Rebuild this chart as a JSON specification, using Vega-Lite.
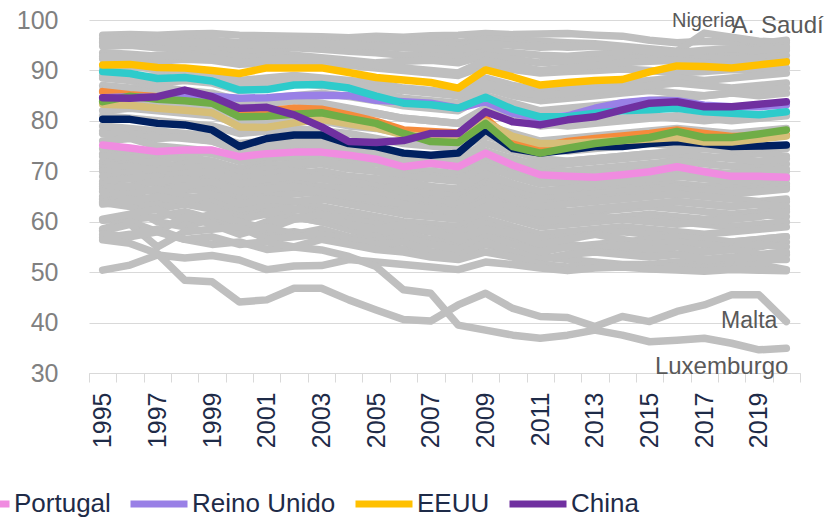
{
"$schema": "https://vega.github.io/schema/vega-lite/v6.json",
"width": 711, "height": 353,
"autosize": {"type": "none"},
"padding": {"left": 89, "top": 20, "right": 33, "bottom": 144},
"config": {"view": {"stroke": null}, "font": "Liberation Sans"},
"datasets": {
"gray": [
{"c":"A. Saudí","t":1995,"v":97.0},{"c":"A. Saudí","t":1996,"v":97.1},{"c":"A. Saudí","t":1997,"v":97.0},{"c":"A. Saudí","t":1998,"v":97.2},{"c":"A. Saudí","t":1999,"v":97.3},{"c":"A. Saudí","t":2000,"v":97.0},{"c":"A. Saudí","t":2001,"v":96.9},{"c":"A. Saudí","t":2002,"v":96.8},{"c":"A. Saudí","t":2003,"v":96.7},{"c":"A. Saudí","t":2004,"v":96.5},{"c":"A. Saudí","t":2005,"v":96.8},{"c":"A. Saudí","t":2006,"v":96.6},{"c":"A. Saudí","t":2007,"v":96.9},{"c":"A. Saudí","t":2008,"v":97.0},{"c":"A. Saudí","t":2009,"v":97.3},{"c":"A. Saudí","t":2010,"v":97.1},{"c":"A. Saudí","t":2011,"v":97.2},{"c":"A. Saudí","t":2012,"v":97.3},{"c":"A. Saudí","t":2013,"v":97.0},{"c":"A. Saudí","t":2014,"v":96.8},{"c":"A. Saudí","t":2015,"v":96.0},{"c":"A. Saudí","t":2016,"v":95.5},{"c":"A. Saudí","t":2017,"v":95.8},{"c":"A. Saudí","t":2018,"v":95.6},{"c":"A. Saudí","t":2019,"v":95.3},{"c":"A. Saudí","t":2020,"v":96.0},
{"c":"Nigeria","t":1995,"v":95.5},{"c":"Nigeria","t":1996,"v":95.8},{"c":"Nigeria","t":1997,"v":95.2},{"c":"Nigeria","t":1998,"v":95.6},{"c":"Nigeria","t":1999,"v":95.8},{"c":"Nigeria","t":2000,"v":95.0},{"c":"Nigeria","t":2001,"v":95.3},{"c":"Nigeria","t":2002,"v":95.6},{"c":"Nigeria","t":2003,"v":95.8},{"c":"Nigeria","t":2004,"v":96.0},{"c":"Nigeria","t":2005,"v":96.3},{"c":"Nigeria","t":2006,"v":96.0},{"c":"Nigeria","t":2007,"v":95.8},{"c":"Nigeria","t":2008,"v":95.5},{"c":"Nigeria","t":2009,"v":96.2},{"c":"Nigeria","t":2010,"v":96.0},{"c":"Nigeria","t":2011,"v":95.8},{"c":"Nigeria","t":2012,"v":95.5},{"c":"Nigeria","t":2013,"v":95.3},{"c":"Nigeria","t":2014,"v":94.8},{"c":"Nigeria","t":2015,"v":94.3},{"c":"Nigeria","t":2016,"v":93.8},{"c":"Nigeria","t":2017,"v":97.4},{"c":"Nigeria","t":2018,"v":96.6},{"c":"Nigeria","t":2019,"v":95.8},{"c":"Nigeria","t":2020,"v":95.5},
{"c":"p03","t":1995,"v":96.3},{"c":"p03","t":1996,"v":96.5},{"c":"p03","t":1997,"v":96.6},{"c":"p03","t":1998,"v":96.2},{"c":"p03","t":1999,"v":96.0},{"c":"p03","t":2000,"v":95.5},{"c":"p03","t":2001,"v":95.8},{"c":"p03","t":2002,"v":96.0},{"c":"p03","t":2003,"v":95.6},{"c":"p03","t":2004,"v":95.2},{"c":"p03","t":2005,"v":95.0},{"c":"p03","t":2006,"v":94.8},{"c":"p03","t":2007,"v":95.2},{"c":"p03","t":2008,"v":95.0},{"c":"p03","t":2009,"v":95.8},{"c":"p03","t":2010,"v":95.5},{"c":"p03","t":2011,"v":95.0},{"c":"p03","t":2012,"v":94.6},{"c":"p03","t":2013,"v":94.8},{"c":"p03","t":2014,"v":94.5},{"c":"p03","t":2015,"v":94.0},{"c":"p03","t":2016,"v":93.5},{"c":"p03","t":2017,"v":93.8},{"c":"p03","t":2018,"v":94.2},{"c":"p03","t":2019,"v":94.5},{"c":"p03","t":2020,"v":94.8},
{"c":"p04","t":1995,"v":94.8},{"c":"p04","t":1996,"v":95.0},{"c":"p04","t":1997,"v":94.5},{"c":"p04","t":1998,"v":94.2},{"c":"p04","t":1999,"v":94.6},{"c":"p04","t":2000,"v":93.8},{"c":"p04","t":2001,"v":94.0},{"c":"p04","t":2002,"v":94.5},{"c":"p04","t":2003,"v":94.2},{"c":"p04","t":2004,"v":93.8},{"c":"p04","t":2005,"v":93.5},{"c":"p04","t":2006,"v":93.0},{"c":"p04","t":2007,"v":93.2},{"c":"p04","t":2008,"v":92.8},{"c":"p04","t":2009,"v":94.0},{"c":"p04","t":2010,"v":93.5},{"c":"p04","t":2011,"v":93.0},{"c":"p04","t":2012,"v":92.8},{"c":"p04","t":2013,"v":93.2},{"c":"p04","t":2014,"v":93.5},{"c":"p04","t":2015,"v":93.0},{"c":"p04","t":2016,"v":92.5},{"c":"p04","t":2017,"v":93.0},{"c":"p04","t":2018,"v":93.5},{"c":"p04","t":2019,"v":93.8},{"c":"p04","t":2020,"v":94.0},
{"c":"p05","t":1995,"v":93.5},{"c":"p05","t":1996,"v":93.2},{"c":"p05","t":1997,"v":92.8},{"c":"p05","t":1998,"v":93.0},{"c":"p05","t":1999,"v":93.5},{"c":"p05","t":2000,"v":92.5},{"c":"p05","t":2001,"v":92.8},{"c":"p05","t":2002,"v":93.0},{"c":"p05","t":2003,"v":92.5},{"c":"p05","t":2004,"v":92.0},{"c":"p05","t":2005,"v":91.5},{"c":"p05","t":2006,"v":91.8},{"c":"p05","t":2007,"v":92.0},{"c":"p05","t":2008,"v":91.5},{"c":"p05","t":2009,"v":93.0},{"c":"p05","t":2010,"v":92.2},{"c":"p05","t":2011,"v":91.5},{"c":"p05","t":2012,"v":91.8},{"c":"p05","t":2013,"v":92.0},{"c":"p05","t":2014,"v":92.3},{"c":"p05","t":2015,"v":92.5},{"c":"p05","t":2016,"v":92.8},{"c":"p05","t":2017,"v":92.5},{"c":"p05","t":2018,"v":92.2},{"c":"p05","t":2019,"v":92.5},{"c":"p05","t":2020,"v":93.0},
{"c":"p06","t":1995,"v":92.3},{"c":"p06","t":1996,"v":92.0},{"c":"p06","t":1997,"v":91.8},{"c":"p06","t":1998,"v":92.2},{"c":"p06","t":1999,"v":92.0},{"c":"p06","t":2000,"v":91.2},{"c":"p06","t":2001,"v":91.5},{"c":"p06","t":2002,"v":91.8},{"c":"p06","t":2003,"v":91.5},{"c":"p06","t":2004,"v":91.0},{"c":"p06","t":2005,"v":90.5},{"c":"p06","t":2006,"v":90.0},{"c":"p06","t":2007,"v":89.5},{"c":"p06","t":2008,"v":89.0},{"c":"p06","t":2009,"v":91.0},{"c":"p06","t":2010,"v":90.2},{"c":"p06","t":2011,"v":89.5},{"c":"p06","t":2012,"v":89.8},{"c":"p06","t":2013,"v":90.0},{"c":"p06","t":2014,"v":90.3},{"c":"p06","t":2015,"v":90.0},{"c":"p06","t":2016,"v":89.5},{"c":"p06","t":2017,"v":89.8},{"c":"p06","t":2018,"v":90.2},{"c":"p06","t":2019,"v":90.0},{"c":"p06","t":2020,"v":90.5},
{"c":"p07","t":1995,"v":90.5},{"c":"p07","t":1996,"v":90.8},{"c":"p07","t":1997,"v":90.2},{"c":"p07","t":1998,"v":89.8},{"c":"p07","t":1999,"v":89.5},{"c":"p07","t":2000,"v":88.0},{"c":"p07","t":2001,"v":88.5},{"c":"p07","t":2002,"v":89.0},{"c":"p07","t":2003,"v":88.5},{"c":"p07","t":2004,"v":88.0},{"c":"p07","t":2005,"v":87.5},{"c":"p07","t":2006,"v":86.5},{"c":"p07","t":2007,"v":86.0},{"c":"p07","t":2008,"v":85.5},{"c":"p07","t":2009,"v":88.5},{"c":"p07","t":2010,"v":87.0},{"c":"p07","t":2011,"v":86.0},{"c":"p07","t":2012,"v":86.5},{"c":"p07","t":2013,"v":87.0},{"c":"p07","t":2014,"v":87.5},{"c":"p07","t":2015,"v":88.0},{"c":"p07","t":2016,"v":88.5},{"c":"p07","t":2017,"v":88.0},{"c":"p07","t":2018,"v":88.5},{"c":"p07","t":2019,"v":89.0},{"c":"p07","t":2020,"v":89.5},
{"c":"p08","t":1995,"v":89.0},{"c":"p08","t":1996,"v":88.5},{"c":"p08","t":1997,"v":89.0},{"c":"p08","t":1998,"v":88.0},{"c":"p08","t":1999,"v":87.5},{"c":"p08","t":2000,"v":86.0},{"c":"p08","t":2001,"v":86.5},{"c":"p08","t":2002,"v":87.5},{"c":"p08","t":2003,"v":87.0},{"c":"p08","t":2004,"v":86.5},{"c":"p08","t":2005,"v":85.5},{"c":"p08","t":2006,"v":84.5},{"c":"p08","t":2007,"v":84.0},{"c":"p08","t":2008,"v":83.5},{"c":"p08","t":2009,"v":86.5},{"c":"p08","t":2010,"v":85.0},{"c":"p08","t":2011,"v":84.0},{"c":"p08","t":2012,"v":84.5},{"c":"p08","t":2013,"v":85.0},{"c":"p08","t":2014,"v":85.5},{"c":"p08","t":2015,"v":86.0},{"c":"p08","t":2016,"v":85.5},{"c":"p08","t":2017,"v":85.0},{"c":"p08","t":2018,"v":85.5},{"c":"p08","t":2019,"v":85.0},{"c":"p08","t":2020,"v":85.5},
{"c":"p09","t":1995,"v":95.8},{"c":"p09","t":1996,"v":96.0},{"c":"p09","t":1997,"v":95.8},{"c":"p09","t":1998,"v":95.5},{"c":"p09","t":1999,"v":95.6},{"c":"p09","t":2000,"v":95.2},{"c":"p09","t":2001,"v":95.0},{"c":"p09","t":2002,"v":95.2},{"c":"p09","t":2003,"v":95.4},{"c":"p09","t":2004,"v":95.0},{"c":"p09","t":2005,"v":94.8},{"c":"p09","t":2006,"v":94.5},{"c":"p09","t":2007,"v":94.3},{"c":"p09","t":2008,"v":94.0},{"c":"p09","t":2009,"v":95.2},{"c":"p09","t":2010,"v":95.0},{"c":"p09","t":2011,"v":94.6},{"c":"p09","t":2012,"v":94.8},{"c":"p09","t":2013,"v":95.0},{"c":"p09","t":2014,"v":94.5},{"c":"p09","t":2015,"v":93.8},{"c":"p09","t":2016,"v":93.5},{"c":"p09","t":2017,"v":94.0},{"c":"p09","t":2018,"v":94.3},{"c":"p09","t":2019,"v":94.0},{"c":"p09","t":2020,"v":94.5},
{"c":"p10","t":1995,"v":92.8},{"c":"p10","t":1996,"v":92.5},{"c":"p10","t":1997,"v":93.0},{"c":"p10","t":1998,"v":92.8},{"c":"p10","t":1999,"v":92.5},{"c":"p10","t":2000,"v":91.5},{"c":"p10","t":2001,"v":92.0},{"c":"p10","t":2002,"v":92.5},{"c":"p10","t":2003,"v":92.2},{"c":"p10","t":2004,"v":91.8},{"c":"p10","t":2005,"v":91.0},{"c":"p10","t":2006,"v":90.5},{"c":"p10","t":2007,"v":90.0},{"c":"p10","t":2008,"v":89.5},{"c":"p10","t":2009,"v":92.0},{"c":"p10","t":2010,"v":91.0},{"c":"p10","t":2011,"v":90.0},{"c":"p10","t":2012,"v":90.5},{"c":"p10","t":2013,"v":91.0},{"c":"p10","t":2014,"v":91.5},{"c":"p10","t":2015,"v":91.8},{"c":"p10","t":2016,"v":92.0},{"c":"p10","t":2017,"v":91.5},{"c":"p10","t":2018,"v":91.0},{"c":"p10","t":2019,"v":91.5},{"c":"p10","t":2020,"v":92.0},
{"c":"p11","t":1995,"v":88.5},{"c":"p11","t":1996,"v":88.0},{"c":"p11","t":1997,"v":87.5},{"c":"p11","t":1998,"v":88.0},{"c":"p11","t":1999,"v":88.5},{"c":"p11","t":2000,"v":87.0},{"c":"p11","t":2001,"v":87.5},{"c":"p11","t":2002,"v":88.0},{"c":"p11","t":2003,"v":88.2},{"c":"p11","t":2004,"v":87.5},{"c":"p11","t":2005,"v":86.5},{"c":"p11","t":2006,"v":86.0},{"c":"p11","t":2007,"v":85.5},{"c":"p11","t":2008,"v":85.0},{"c":"p11","t":2009,"v":87.5},{"c":"p11","t":2010,"v":86.0},{"c":"p11","t":2011,"v":85.0},{"c":"p11","t":2012,"v":85.5},{"c":"p11","t":2013,"v":86.0},{"c":"p11","t":2014,"v":86.5},{"c":"p11","t":2015,"v":87.0},{"c":"p11","t":2016,"v":87.5},{"c":"p11","t":2017,"v":87.0},{"c":"p11","t":2018,"v":86.5},{"c":"p11","t":2019,"v":87.0},{"c":"p11","t":2020,"v":87.5},
{"c":"p12","t":1995,"v":87.0},{"c":"p12","t":1996,"v":86.5},{"c":"p12","t":1997,"v":86.8},{"c":"p12","t":1998,"v":86.0},{"c":"p12","t":1999,"v":85.5},{"c":"p12","t":2000,"v":84.0},{"c":"p12","t":2001,"v":84.5},{"c":"p12","t":2002,"v":85.0},{"c":"p12","t":2003,"v":85.5},{"c":"p12","t":2004,"v":84.8},{"c":"p12","t":2005,"v":84.0},{"c":"p12","t":2006,"v":83.0},{"c":"p12","t":2007,"v":82.5},{"c":"p12","t":2008,"v":82.0},{"c":"p12","t":2009,"v":85.0},{"c":"p12","t":2010,"v":83.5},{"c":"p12","t":2011,"v":82.0},{"c":"p12","t":2012,"v":82.5},{"c":"p12","t":2013,"v":83.0},{"c":"p12","t":2014,"v":83.5},{"c":"p12","t":2015,"v":84.0},{"c":"p12","t":2016,"v":84.5},{"c":"p12","t":2017,"v":85.0},{"c":"p12","t":2018,"v":85.5},{"c":"p12","t":2019,"v":86.0},{"c":"p12","t":2020,"v":86.5},
{"c":"p13","t":1995,"v":86.0},{"c":"p13","t":1996,"v":86.2},{"c":"p13","t":1997,"v":85.5},{"c":"p13","t":1998,"v":85.0},{"c":"p13","t":1999,"v":84.5},{"c":"p13","t":2000,"v":83.0},{"c":"p13","t":2001,"v":83.5},{"c":"p13","t":2002,"v":84.0},{"c":"p13","t":2003,"v":83.5},{"c":"p13","t":2004,"v":82.5},{"c":"p13","t":2005,"v":81.5},{"c":"p13","t":2006,"v":80.5},{"c":"p13","t":2007,"v":80.0},{"c":"p13","t":2008,"v":79.5},{"c":"p13","t":2009,"v":82.5},{"c":"p13","t":2010,"v":80.5},{"c":"p13","t":2011,"v":79.0},{"c":"p13","t":2012,"v":79.5},{"c":"p13","t":2013,"v":80.0},{"c":"p13","t":2014,"v":80.5},{"c":"p13","t":2015,"v":81.0},{"c":"p13","t":2016,"v":80.5},{"c":"p13","t":2017,"v":80.0},{"c":"p13","t":2018,"v":80.5},{"c":"p13","t":2019,"v":81.0},{"c":"p13","t":2020,"v":81.5},
{"c":"p14","t":1995,"v":84.5},{"c":"p14","t":1996,"v":84.0},{"c":"p14","t":1997,"v":83.5},{"c":"p14","t":1998,"v":83.0},{"c":"p14","t":1999,"v":82.5},{"c":"p14","t":2000,"v":81.0},{"c":"p14","t":2001,"v":81.5},{"c":"p14","t":2002,"v":82.0},{"c":"p14","t":2003,"v":82.5},{"c":"p14","t":2004,"v":82.0},{"c":"p14","t":2005,"v":81.5},{"c":"p14","t":2006,"v":80.5},{"c":"p14","t":2007,"v":80.0},{"c":"p14","t":2008,"v":79.5},{"c":"p14","t":2009,"v":82.0},{"c":"p14","t":2010,"v":80.5},{"c":"p14","t":2011,"v":79.5},{"c":"p14","t":2012,"v":79.0},{"c":"p14","t":2013,"v":79.5},{"c":"p14","t":2014,"v":80.0},{"c":"p14","t":2015,"v":80.5},{"c":"p14","t":2016,"v":81.0},{"c":"p14","t":2017,"v":80.5},{"c":"p14","t":2018,"v":80.0},{"c":"p14","t":2019,"v":80.5},{"c":"p14","t":2020,"v":81.0},
{"c":"p15","t":1995,"v":82.0},{"c":"p15","t":1996,"v":82.5},{"c":"p15","t":1997,"v":82.0},{"c":"p15","t":1998,"v":81.5},{"c":"p15","t":1999,"v":81.0},{"c":"p15","t":2000,"v":79.5},{"c":"p15","t":2001,"v":80.0},{"c":"p15","t":2002,"v":80.5},{"c":"p15","t":2003,"v":80.0},{"c":"p15","t":2004,"v":79.0},{"c":"p15","t":2005,"v":78.5},{"c":"p15","t":2006,"v":77.5},{"c":"p15","t":2007,"v":77.0},{"c":"p15","t":2008,"v":76.5},{"c":"p15","t":2009,"v":79.0},{"c":"p15","t":2010,"v":77.5},{"c":"p15","t":2011,"v":76.0},{"c":"p15","t":2012,"v":76.5},{"c":"p15","t":2013,"v":77.0},{"c":"p15","t":2014,"v":77.5},{"c":"p15","t":2015,"v":78.0},{"c":"p15","t":2016,"v":78.5},{"c":"p15","t":2017,"v":78.0},{"c":"p15","t":2018,"v":77.5},{"c":"p15","t":2019,"v":78.0},{"c":"p15","t":2020,"v":78.5},
{"c":"p16","t":1995,"v":81.0},{"c":"p16","t":1996,"v":80.5},{"c":"p16","t":1997,"v":80.0},{"c":"p16","t":1998,"v":79.5},{"c":"p16","t":1999,"v":79.0},{"c":"p16","t":2000,"v":77.5},{"c":"p16","t":2001,"v":78.0},{"c":"p16","t":2002,"v":78.5},{"c":"p16","t":2003,"v":78.0},{"c":"p16","t":2004,"v":77.5},{"c":"p16","t":2005,"v":76.5},{"c":"p16","t":2006,"v":75.5},{"c":"p16","t":2007,"v":75.0},{"c":"p16","t":2008,"v":74.5},{"c":"p16","t":2009,"v":77.0},{"c":"p16","t":2010,"v":75.5},{"c":"p16","t":2011,"v":74.5},{"c":"p16","t":2012,"v":74.0},{"c":"p16","t":2013,"v":74.5},{"c":"p16","t":2014,"v":75.0},{"c":"p16","t":2015,"v":75.5},{"c":"p16","t":2016,"v":75.0},{"c":"p16","t":2017,"v":74.5},{"c":"p16","t":2018,"v":74.0},{"c":"p16","t":2019,"v":74.5},{"c":"p16","t":2020,"v":74.5},
{"c":"p17","t":1995,"v":79.0},{"c":"p17","t":1996,"v":78.5},{"c":"p17","t":1997,"v":78.0},{"c":"p17","t":1998,"v":77.5},{"c":"p17","t":1999,"v":77.0},{"c":"p17","t":2000,"v":75.5},{"c":"p17","t":2001,"v":76.0},{"c":"p17","t":2002,"v":76.5},{"c":"p17","t":2003,"v":76.0},{"c":"p17","t":2004,"v":75.0},{"c":"p17","t":2005,"v":74.0},{"c":"p17","t":2006,"v":73.5},{"c":"p17","t":2007,"v":73.0},{"c":"p17","t":2008,"v":72.5},{"c":"p17","t":2009,"v":75.5},{"c":"p17","t":2010,"v":74.0},{"c":"p17","t":2011,"v":72.5},{"c":"p17","t":2012,"v":72.0},{"c":"p17","t":2013,"v":72.5},{"c":"p17","t":2014,"v":73.0},{"c":"p17","t":2015,"v":73.5},{"c":"p17","t":2016,"v":73.0},{"c":"p17","t":2017,"v":72.5},{"c":"p17","t":2018,"v":73.0},{"c":"p17","t":2019,"v":73.5},{"c":"p17","t":2020,"v":73.0},
{"c":"p18","t":1995,"v":78.0},{"c":"p18","t":1996,"v":77.5},{"c":"p18","t":1997,"v":77.0},{"c":"p18","t":1998,"v":76.5},{"c":"p18","t":1999,"v":76.0},{"c":"p18","t":2000,"v":74.0},{"c":"p18","t":2001,"v":74.5},{"c":"p18","t":2002,"v":75.0},{"c":"p18","t":2003,"v":74.5},{"c":"p18","t":2004,"v":74.0},{"c":"p18","t":2005,"v":73.0},{"c":"p18","t":2006,"v":72.0},{"c":"p18","t":2007,"v":71.5},{"c":"p18","t":2008,"v":71.0},{"c":"p18","t":2009,"v":73.5},{"c":"p18","t":2010,"v":72.0},{"c":"p18","t":2011,"v":70.5},{"c":"p18","t":2012,"v":70.0},{"c":"p18","t":2013,"v":70.5},{"c":"p18","t":2014,"v":71.0},{"c":"p18","t":2015,"v":71.5},{"c":"p18","t":2016,"v":72.0},{"c":"p18","t":2017,"v":71.5},{"c":"p18","t":2018,"v":71.0},{"c":"p18","t":2019,"v":71.0},{"c":"p18","t":2020,"v":71.5},
{"c":"p19","t":1995,"v":77.5},{"c":"p19","t":1996,"v":77.0},{"c":"p19","t":1997,"v":76.5},{"c":"p19","t":1998,"v":76.8},{"c":"p19","t":1999,"v":76.0},{"c":"p19","t":2000,"v":74.5},{"c":"p19","t":2001,"v":75.0},{"c":"p19","t":2002,"v":75.5},{"c":"p19","t":2003,"v":75.2},{"c":"p19","t":2004,"v":74.5},{"c":"p19","t":2005,"v":73.5},{"c":"p19","t":2006,"v":72.5},{"c":"p19","t":2007,"v":72.0},{"c":"p19","t":2008,"v":71.5},{"c":"p19","t":2009,"v":74.0},{"c":"p19","t":2010,"v":72.5},{"c":"p19","t":2011,"v":71.0},{"c":"p19","t":2012,"v":71.5},{"c":"p19","t":2013,"v":72.0},{"c":"p19","t":2014,"v":72.5},{"c":"p19","t":2015,"v":73.0},{"c":"p19","t":2016,"v":73.5},{"c":"p19","t":2017,"v":73.0},{"c":"p19","t":2018,"v":72.5},{"c":"p19","t":2019,"v":72.0},{"c":"p19","t":2020,"v":72.5},
{"c":"p20","t":1995,"v":76.0},{"c":"p20","t":1996,"v":76.5},{"c":"p20","t":1997,"v":75.0},{"c":"p20","t":1998,"v":74.5},{"c":"p20","t":1999,"v":74.0},{"c":"p20","t":2000,"v":72.0},{"c":"p20","t":2001,"v":73.0},{"c":"p20","t":2002,"v":72.5},{"c":"p20","t":2003,"v":73.0},{"c":"p20","t":2004,"v":72.0},{"c":"p20","t":2005,"v":71.5},{"c":"p20","t":2006,"v":70.5},{"c":"p20","t":2007,"v":70.0},{"c":"p20","t":2008,"v":69.5},{"c":"p20","t":2009,"v":72.0},{"c":"p20","t":2010,"v":70.0},{"c":"p20","t":2011,"v":68.5},{"c":"p20","t":2012,"v":69.0},{"c":"p20","t":2013,"v":69.5},{"c":"p20","t":2014,"v":70.0},{"c":"p20","t":2015,"v":70.5},{"c":"p20","t":2016,"v":70.0},{"c":"p20","t":2017,"v":69.5},{"c":"p20","t":2018,"v":69.0},{"c":"p20","t":2019,"v":69.5},{"c":"p20","t":2020,"v":70.0},
{"c":"p21","t":1995,"v":74.5},{"c":"p21","t":1996,"v":74.0},{"c":"p21","t":1997,"v":73.5},{"c":"p21","t":1998,"v":74.0},{"c":"p21","t":1999,"v":73.5},{"c":"p21","t":2000,"v":72.0},{"c":"p21","t":2001,"v":72.5},{"c":"p21","t":2002,"v":73.0},{"c":"p21","t":2003,"v":73.5},{"c":"p21","t":2004,"v":73.0},{"c":"p21","t":2005,"v":72.5},{"c":"p21","t":2006,"v":72.0},{"c":"p21","t":2007,"v":71.5},{"c":"p21","t":2008,"v":71.0},{"c":"p21","t":2009,"v":73.0},{"c":"p21","t":2010,"v":72.0},{"c":"p21","t":2011,"v":71.5},{"c":"p21","t":2012,"v":72.0},{"c":"p21","t":2013,"v":72.5},{"c":"p21","t":2014,"v":73.0},{"c":"p21","t":2015,"v":73.5},{"c":"p21","t":2016,"v":74.0},{"c":"p21","t":2017,"v":74.5},{"c":"p21","t":2018,"v":74.0},{"c":"p21","t":2019,"v":74.5},{"c":"p21","t":2020,"v":75.0},
{"c":"p22","t":1995,"v":73.5},{"c":"p22","t":1996,"v":73.0},{"c":"p22","t":1997,"v":72.5},{"c":"p22","t":1998,"v":72.8},{"c":"p22","t":1999,"v":72.0},{"c":"p22","t":2000,"v":70.5},{"c":"p22","t":2001,"v":71.5},{"c":"p22","t":2002,"v":71.0},{"c":"p22","t":2003,"v":71.5},{"c":"p22","t":2004,"v":70.5},{"c":"p22","t":2005,"v":70.0},{"c":"p22","t":2006,"v":69.5},{"c":"p22","t":2007,"v":69.0},{"c":"p22","t":2008,"v":68.5},{"c":"p22","t":2009,"v":70.5},{"c":"p22","t":2010,"v":69.5},{"c":"p22","t":2011,"v":68.0},{"c":"p22","t":2012,"v":67.5},{"c":"p22","t":2013,"v":68.0},{"c":"p22","t":2014,"v":68.5},{"c":"p22","t":2015,"v":69.0},{"c":"p22","t":2016,"v":69.5},{"c":"p22","t":2017,"v":69.0},{"c":"p22","t":2018,"v":68.5},{"c":"p22","t":2019,"v":68.0},{"c":"p22","t":2020,"v":67.5},
{"c":"p23","t":1995,"v":73.0},{"c":"p23","t":1996,"v":72.5},{"c":"p23","t":1997,"v":73.5},{"c":"p23","t":1998,"v":72.0},{"c":"p23","t":1999,"v":71.5},{"c":"p23","t":2000,"v":70.0},{"c":"p23","t":2001,"v":71.0},{"c":"p23","t":2002,"v":71.5},{"c":"p23","t":2003,"v":72.0},{"c":"p23","t":2004,"v":71.0},{"c":"p23","t":2005,"v":70.0},{"c":"p23","t":2006,"v":69.0},{"c":"p23","t":2007,"v":68.5},{"c":"p23","t":2008,"v":68.0},{"c":"p23","t":2009,"v":71.0},{"c":"p23","t":2010,"v":69.0},{"c":"p23","t":2011,"v":67.5},{"c":"p23","t":2012,"v":68.0},{"c":"p23","t":2013,"v":68.5},{"c":"p23","t":2014,"v":69.5},{"c":"p23","t":2015,"v":70.0},{"c":"p23","t":2016,"v":70.5},{"c":"p23","t":2017,"v":70.0},{"c":"p23","t":2018,"v":69.5},{"c":"p23","t":2019,"v":70.0},{"c":"p23","t":2020,"v":70.5},
{"c":"p24","t":1995,"v":72.0},{"c":"p24","t":1996,"v":71.0},{"c":"p24","t":1997,"v":70.5},{"c":"p24","t":1998,"v":71.5},{"c":"p24","t":1999,"v":72.0},{"c":"p24","t":2000,"v":69.5},{"c":"p24","t":2001,"v":70.5},{"c":"p24","t":2002,"v":70.0},{"c":"p24","t":2003,"v":69.5},{"c":"p24","t":2004,"v":68.5},{"c":"p24","t":2005,"v":67.5},{"c":"p24","t":2006,"v":66.5},{"c":"p24","t":2007,"v":66.0},{"c":"p24","t":2008,"v":65.5},{"c":"p24","t":2009,"v":68.0},{"c":"p24","t":2010,"v":66.5},{"c":"p24","t":2011,"v":65.0},{"c":"p24","t":2012,"v":65.5},{"c":"p24","t":2013,"v":66.0},{"c":"p24","t":2014,"v":66.5},{"c":"p24","t":2015,"v":67.0},{"c":"p24","t":2016,"v":67.5},{"c":"p24","t":2017,"v":67.0},{"c":"p24","t":2018,"v":66.5},{"c":"p24","t":2019,"v":67.0},{"c":"p24","t":2020,"v":67.5},
{"c":"p25","t":1995,"v":71.5},{"c":"p25","t":1996,"v":70.5},{"c":"p25","t":1997,"v":70.0},{"c":"p25","t":1998,"v":69.0},{"c":"p25","t":1999,"v":68.5},{"c":"p25","t":2000,"v":66.5},{"c":"p25","t":2001,"v":67.5},{"c":"p25","t":2002,"v":68.0},{"c":"p25","t":2003,"v":68.5},{"c":"p25","t":2004,"v":68.0},{"c":"p25","t":2005,"v":67.5},{"c":"p25","t":2006,"v":67.0},{"c":"p25","t":2007,"v":66.5},{"c":"p25","t":2008,"v":66.0},{"c":"p25","t":2009,"v":68.5},{"c":"p25","t":2010,"v":67.0},{"c":"p25","t":2011,"v":66.0},{"c":"p25","t":2012,"v":66.5},{"c":"p25","t":2013,"v":67.0},{"c":"p25","t":2014,"v":67.5},{"c":"p25","t":2015,"v":68.0},{"c":"p25","t":2016,"v":67.5},{"c":"p25","t":2017,"v":67.0},{"c":"p25","t":2018,"v":67.5},{"c":"p25","t":2019,"v":68.0},{"c":"p25","t":2020,"v":68.5},
{"c":"p26","t":1995,"v":71.0},{"c":"p26","t":1996,"v":71.5},{"c":"p26","t":1997,"v":72.0},{"c":"p26","t":1998,"v":70.5},{"c":"p26","t":1999,"v":70.0},{"c":"p26","t":2000,"v":68.0},{"c":"p26","t":2001,"v":69.0},{"c":"p26","t":2002,"v":69.5},{"c":"p26","t":2003,"v":70.0},{"c":"p26","t":2004,"v":69.0},{"c":"p26","t":2005,"v":68.5},{"c":"p26","t":2006,"v":68.0},{"c":"p26","t":2007,"v":67.0},{"c":"p26","t":2008,"v":66.5},{"c":"p26","t":2009,"v":69.5},{"c":"p26","t":2010,"v":67.5},{"c":"p26","t":2011,"v":66.0},{"c":"p26","t":2012,"v":66.5},{"c":"p26","t":2013,"v":67.5},{"c":"p26","t":2014,"v":68.0},{"c":"p26","t":2015,"v":68.5},{"c":"p26","t":2016,"v":69.0},{"c":"p26","t":2017,"v":68.5},{"c":"p26","t":2018,"v":68.0},{"c":"p26","t":2019,"v":68.5},{"c":"p26","t":2020,"v":69.0},
{"c":"p27","t":1995,"v":70.5},{"c":"p27","t":1996,"v":71.0},{"c":"p27","t":1997,"v":70.0},{"c":"p27","t":1998,"v":70.5},{"c":"p27","t":1999,"v":71.0},{"c":"p27","t":2000,"v":68.5},{"c":"p27","t":2001,"v":69.5},{"c":"p27","t":2002,"v":70.0},{"c":"p27","t":2003,"v":69.0},{"c":"p27","t":2004,"v":68.0},{"c":"p27","t":2005,"v":67.0},{"c":"p27","t":2006,"v":66.0},{"c":"p27","t":2007,"v":65.5},{"c":"p27","t":2008,"v":65.0},{"c":"p27","t":2009,"v":67.5},{"c":"p27","t":2010,"v":66.0},{"c":"p27","t":2011,"v":64.5},{"c":"p27","t":2012,"v":65.0},{"c":"p27","t":2013,"v":65.5},{"c":"p27","t":2014,"v":66.0},{"c":"p27","t":2015,"v":66.5},{"c":"p27","t":2016,"v":67.0},{"c":"p27","t":2017,"v":66.5},{"c":"p27","t":2018,"v":66.0},{"c":"p27","t":2019,"v":66.5},{"c":"p27","t":2020,"v":67.0},
{"c":"p28","t":1995,"v":70.0},{"c":"p28","t":1996,"v":69.5},{"c":"p28","t":1997,"v":69.0},{"c":"p28","t":1998,"v":69.5},{"c":"p28","t":1999,"v":70.0},{"c":"p28","t":2000,"v":67.5},{"c":"p28","t":2001,"v":68.5},{"c":"p28","t":2002,"v":69.0},{"c":"p28","t":2003,"v":68.5},{"c":"p28","t":2004,"v":67.5},{"c":"p28","t":2005,"v":66.0},{"c":"p28","t":2006,"v":65.0},{"c":"p28","t":2007,"v":64.5},{"c":"p28","t":2008,"v":64.0},{"c":"p28","t":2009,"v":67.0},{"c":"p28","t":2010,"v":65.0},{"c":"p28","t":2011,"v":63.5},{"c":"p28","t":2012,"v":64.0},{"c":"p28","t":2013,"v":64.5},{"c":"p28","t":2014,"v":65.0},{"c":"p28","t":2015,"v":66.0},{"c":"p28","t":2016,"v":66.5},{"c":"p28","t":2017,"v":66.0},{"c":"p28","t":2018,"v":65.5},{"c":"p28","t":2019,"v":66.0},{"c":"p28","t":2020,"v":66.5},
{"c":"p29","t":1995,"v":69.0},{"c":"p29","t":1996,"v":68.5},{"c":"p29","t":1997,"v":67.5},{"c":"p29","t":1998,"v":68.0},{"c":"p29","t":1999,"v":68.5},{"c":"p29","t":2000,"v":66.0},{"c":"p29","t":2001,"v":67.0},{"c":"p29","t":2002,"v":67.5},{"c":"p29","t":2003,"v":67.0},{"c":"p29","t":2004,"v":66.0},{"c":"p29","t":2005,"v":65.0},{"c":"p29","t":2006,"v":64.0},{"c":"p29","t":2007,"v":63.0},{"c":"p29","t":2008,"v":62.5},{"c":"p29","t":2009,"v":66.0},{"c":"p29","t":2010,"v":64.0},{"c":"p29","t":2011,"v":62.5},{"c":"p29","t":2012,"v":62.0},{"c":"p29","t":2013,"v":62.5},{"c":"p29","t":2014,"v":63.0},{"c":"p29","t":2015,"v":63.5},{"c":"p29","t":2016,"v":64.0},{"c":"p29","t":2017,"v":63.5},{"c":"p29","t":2018,"v":63.0},{"c":"p29","t":2019,"v":63.5},{"c":"p29","t":2020,"v":64.0},
{"c":"p30","t":1995,"v":68.0},{"c":"p30","t":1996,"v":68.5},{"c":"p30","t":1997,"v":69.0},{"c":"p30","t":1998,"v":67.5},{"c":"p30","t":1999,"v":67.0},{"c":"p30","t":2000,"v":65.0},{"c":"p30","t":2001,"v":66.5},{"c":"p30","t":2002,"v":66.0},{"c":"p30","t":2003,"v":65.5},{"c":"p30","t":2004,"v":64.5},{"c":"p30","t":2005,"v":63.5},{"c":"p30","t":2006,"v":62.5},{"c":"p30","t":2007,"v":62.0},{"c":"p30","t":2008,"v":61.5},{"c":"p30","t":2009,"v":65.0},{"c":"p30","t":2010,"v":63.0},{"c":"p30","t":2011,"v":61.0},{"c":"p30","t":2012,"v":61.5},{"c":"p30","t":2013,"v":62.0},{"c":"p30","t":2014,"v":62.5},{"c":"p30","t":2015,"v":63.0},{"c":"p30","t":2016,"v":62.5},{"c":"p30","t":2017,"v":62.0},{"c":"p30","t":2018,"v":61.5},{"c":"p30","t":2019,"v":62.0},{"c":"p30","t":2020,"v":62.5},
{"c":"p31","t":1995,"v":67.5},{"c":"p31","t":1996,"v":67.0},{"c":"p31","t":1997,"v":68.0},{"c":"p31","t":1998,"v":68.5},{"c":"p31","t":1999,"v":67.5},{"c":"p31","t":2000,"v":65.0},{"c":"p31","t":2001,"v":66.0},{"c":"p31","t":2002,"v":66.5},{"c":"p31","t":2003,"v":67.0},{"c":"p31","t":2004,"v":66.5},{"c":"p31","t":2005,"v":65.5},{"c":"p31","t":2006,"v":64.5},{"c":"p31","t":2007,"v":64.0},{"c":"p31","t":2008,"v":63.5},{"c":"p31","t":2009,"v":66.5},{"c":"p31","t":2010,"v":64.5},{"c":"p31","t":2011,"v":63.0},{"c":"p31","t":2012,"v":63.5},{"c":"p31","t":2013,"v":64.0},{"c":"p31","t":2014,"v":64.5},{"c":"p31","t":2015,"v":65.0},{"c":"p31","t":2016,"v":65.5},{"c":"p31","t":2017,"v":65.0},{"c":"p31","t":2018,"v":64.5},{"c":"p31","t":2019,"v":64.0},{"c":"p31","t":2020,"v":64.5},
{"c":"p32","t":1995,"v":67.0},{"c":"p32","t":1996,"v":66.5},{"c":"p32","t":1997,"v":66.0},{"c":"p32","t":1998,"v":66.5},{"c":"p32","t":1999,"v":66.0},{"c":"p32","t":2000,"v":64.0},{"c":"p32","t":2001,"v":65.0},{"c":"p32","t":2002,"v":65.5},{"c":"p32","t":2003,"v":66.0},{"c":"p32","t":2004,"v":65.0},{"c":"p32","t":2005,"v":64.0},{"c":"p32","t":2006,"v":63.5},{"c":"p32","t":2007,"v":63.0},{"c":"p32","t":2008,"v":62.5},{"c":"p32","t":2009,"v":64.5},{"c":"p32","t":2010,"v":62.5},{"c":"p32","t":2011,"v":60.5},{"c":"p32","t":2012,"v":60.0},{"c":"p32","t":2013,"v":60.5},{"c":"p32","t":2014,"v":61.0},{"c":"p32","t":2015,"v":61.5},{"c":"p32","t":2016,"v":61.0},{"c":"p32","t":2017,"v":60.5},{"c":"p32","t":2018,"v":61.0},{"c":"p32","t":2019,"v":61.5},{"c":"p32","t":2020,"v":61.0},
{"c":"p33","t":1995,"v":66.5},{"c":"p33","t":1996,"v":67.0},{"c":"p33","t":1997,"v":66.0},{"c":"p33","t":1998,"v":67.0},{"c":"p33","t":1999,"v":68.0},{"c":"p33","t":2000,"v":66.0},{"c":"p33","t":2001,"v":66.5},{"c":"p33","t":2002,"v":67.0},{"c":"p33","t":2003,"v":66.0},{"c":"p33","t":2004,"v":65.0},{"c":"p33","t":2005,"v":64.5},{"c":"p33","t":2006,"v":63.5},{"c":"p33","t":2007,"v":62.5},{"c":"p33","t":2008,"v":62.0},{"c":"p33","t":2009,"v":64.0},{"c":"p33","t":2010,"v":62.5},{"c":"p33","t":2011,"v":61.5},{"c":"p33","t":2012,"v":62.0},{"c":"p33","t":2013,"v":62.5},{"c":"p33","t":2014,"v":63.0},{"c":"p33","t":2015,"v":63.5},{"c":"p33","t":2016,"v":64.0},{"c":"p33","t":2017,"v":63.5},{"c":"p33","t":2018,"v":63.0},{"c":"p33","t":2019,"v":63.5},{"c":"p33","t":2020,"v":63.0},
{"c":"p34","t":1995,"v":66.0},{"c":"p34","t":1996,"v":65.0},{"c":"p34","t":1997,"v":64.0},{"c":"p34","t":1998,"v":65.0},{"c":"p34","t":1999,"v":64.5},{"c":"p34","t":2000,"v":63.0},{"c":"p34","t":2001,"v":63.5},{"c":"p34","t":2002,"v":64.0},{"c":"p34","t":2003,"v":63.0},{"c":"p34","t":2004,"v":62.0},{"c":"p34","t":2005,"v":61.0},{"c":"p34","t":2006,"v":60.0},{"c":"p34","t":2007,"v":59.5},{"c":"p34","t":2008,"v":59.0},{"c":"p34","t":2009,"v":62.0},{"c":"p34","t":2010,"v":60.5},{"c":"p34","t":2011,"v":59.0},{"c":"p34","t":2012,"v":59.5},{"c":"p34","t":2013,"v":60.0},{"c":"p34","t":2014,"v":60.5},{"c":"p34","t":2015,"v":61.0},{"c":"p34","t":2016,"v":60.0},{"c":"p34","t":2017,"v":59.5},{"c":"p34","t":2018,"v":59.0},{"c":"p34","t":2019,"v":59.5},{"c":"p34","t":2020,"v":60.0},
{"c":"p35","t":1995,"v":65.0},{"c":"p35","t":1996,"v":65.5},{"c":"p35","t":1997,"v":66.5},{"c":"p35","t":1998,"v":65.0},{"c":"p35","t":1999,"v":64.0},{"c":"p35","t":2000,"v":62.0},{"c":"p35","t":2001,"v":63.0},{"c":"p35","t":2002,"v":62.5},{"c":"p35","t":2003,"v":62.0},{"c":"p35","t":2004,"v":61.0},{"c":"p35","t":2005,"v":60.5},{"c":"p35","t":2006,"v":59.5},{"c":"p35","t":2007,"v":58.5},{"c":"p35","t":2008,"v":58.0},{"c":"p35","t":2009,"v":60.5},{"c":"p35","t":2010,"v":59.0},{"c":"p35","t":2011,"v":57.5},{"c":"p35","t":2012,"v":58.0},{"c":"p35","t":2013,"v":58.5},{"c":"p35","t":2014,"v":59.0},{"c":"p35","t":2015,"v":58.5},{"c":"p35","t":2016,"v":58.0},{"c":"p35","t":2017,"v":57.5},{"c":"p35","t":2018,"v":58.0},{"c":"p35","t":2019,"v":58.5},{"c":"p35","t":2020,"v":59.0},
{"c":"p36","t":1995,"v":64.5},{"c":"p36","t":1996,"v":63.5},{"c":"p36","t":1997,"v":62.5},{"c":"p36","t":1998,"v":63.5},{"c":"p36","t":1999,"v":63.0},{"c":"p36","t":2000,"v":61.0},{"c":"p36","t":2001,"v":62.0},{"c":"p36","t":2002,"v":62.5},{"c":"p36","t":2003,"v":61.5},{"c":"p36","t":2004,"v":60.5},{"c":"p36","t":2005,"v":59.5},{"c":"p36","t":2006,"v":58.5},{"c":"p36","t":2007,"v":58.0},{"c":"p36","t":2008,"v":57.5},{"c":"p36","t":2009,"v":59.5},{"c":"p36","t":2010,"v":58.0},{"c":"p36","t":2011,"v":56.5},{"c":"p36","t":2012,"v":57.0},{"c":"p36","t":2013,"v":57.5},{"c":"p36","t":2014,"v":58.0},{"c":"p36","t":2015,"v":57.5},{"c":"p36","t":2016,"v":57.0},{"c":"p36","t":2017,"v":56.5},{"c":"p36","t":2018,"v":56.0},{"c":"p36","t":2019,"v":56.5},{"c":"p36","t":2020,"v":57.0},
{"c":"p37","t":1995,"v":64.0},{"c":"p37","t":1996,"v":64.5},{"c":"p37","t":1997,"v":63.0},{"c":"p37","t":1998,"v":63.5},{"c":"p37","t":1999,"v":62.5},{"c":"p37","t":2000,"v":60.5},{"c":"p37","t":2001,"v":61.5},{"c":"p37","t":2002,"v":61.0},{"c":"p37","t":2003,"v":60.0},{"c":"p37","t":2004,"v":59.0},{"c":"p37","t":2005,"v":58.0},{"c":"p37","t":2006,"v":57.5},{"c":"p37","t":2007,"v":56.5},{"c":"p37","t":2008,"v":56.0},{"c":"p37","t":2009,"v":58.5},{"c":"p37","t":2010,"v":56.5},{"c":"p37","t":2011,"v":55.0},{"c":"p37","t":2012,"v":55.5},{"c":"p37","t":2013,"v":55.0},{"c":"p37","t":2014,"v":54.5},{"c":"p37","t":2015,"v":54.0},{"c":"p37","t":2016,"v":53.5},{"c":"p37","t":2017,"v":54.0},{"c":"p37","t":2018,"v":54.5},{"c":"p37","t":2019,"v":55.0},{"c":"p37","t":2020,"v":56.0},
{"c":"p38","t":1995,"v":63.8},{"c":"p38","t":1996,"v":63.0},{"c":"p38","t":1997,"v":60.0},{"c":"p38","t":1998,"v":59.0},{"c":"p38","t":1999,"v":60.5},{"c":"p38","t":2000,"v":58.5},{"c":"p38","t":2001,"v":57.5},{"c":"p38","t":2002,"v":58.0},{"c":"p38","t":2003,"v":57.0},{"c":"p38","t":2004,"v":56.0},{"c":"p38","t":2005,"v":55.5},{"c":"p38","t":2006,"v":54.5},{"c":"p38","t":2007,"v":54.0},{"c":"p38","t":2008,"v":53.5},{"c":"p38","t":2009,"v":55.5},{"c":"p38","t":2010,"v":54.0},{"c":"p38","t":2011,"v":53.0},{"c":"p38","t":2012,"v":52.5},{"c":"p38","t":2013,"v":52.0},{"c":"p38","t":2014,"v":51.5},{"c":"p38","t":2015,"v":51.5},{"c":"p38","t":2016,"v":52.0},{"c":"p38","t":2017,"v":51.5},{"c":"p38","t":2018,"v":52.0},{"c":"p38","t":2019,"v":52.5},{"c":"p38","t":2020,"v":53.5},
{"c":"p39","t":1995,"v":63.5},{"c":"p39","t":1996,"v":64.0},{"c":"p39","t":1997,"v":65.0},{"c":"p39","t":1998,"v":64.0},{"c":"p39","t":1999,"v":65.5},{"c":"p39","t":2000,"v":63.5},{"c":"p39","t":2001,"v":64.5},{"c":"p39","t":2002,"v":64.0},{"c":"p39","t":2003,"v":64.5},{"c":"p39","t":2004,"v":63.5},{"c":"p39","t":2005,"v":62.5},{"c":"p39","t":2006,"v":61.5},{"c":"p39","t":2007,"v":61.0},{"c":"p39","t":2008,"v":60.5},{"c":"p39","t":2009,"v":63.0},{"c":"p39","t":2010,"v":61.5},{"c":"p39","t":2011,"v":60.0},{"c":"p39","t":2012,"v":60.5},{"c":"p39","t":2013,"v":61.0},{"c":"p39","t":2014,"v":60.5},{"c":"p39","t":2015,"v":60.0},{"c":"p39","t":2016,"v":59.5},{"c":"p39","t":2017,"v":60.0},{"c":"p39","t":2018,"v":60.5},{"c":"p39","t":2019,"v":61.0},{"c":"p39","t":2020,"v":62.0},
{"c":"p40","t":1995,"v":60.3},{"c":"p40","t":1996,"v":60.5},{"c":"p40","t":1997,"v":61.0},{"c":"p40","t":1998,"v":62.0},{"c":"p40","t":1999,"v":60.5},{"c":"p40","t":2000,"v":58.0},{"c":"p40","t":2001,"v":60.0},{"c":"p40","t":2002,"v":61.0},{"c":"p40","t":2003,"v":60.0},{"c":"p40","t":2004,"v":58.5},{"c":"p40","t":2005,"v":57.0},{"c":"p40","t":2006,"v":56.0},{"c":"p40","t":2007,"v":55.5},{"c":"p40","t":2008,"v":55.0},{"c":"p40","t":2009,"v":58.0},{"c":"p40","t":2010,"v":56.0},{"c":"p40","t":2011,"v":54.5},{"c":"p40","t":2012,"v":55.0},{"c":"p40","t":2013,"v":55.5},{"c":"p40","t":2014,"v":56.0},{"c":"p40","t":2015,"v":56.5},{"c":"p40","t":2016,"v":57.0},{"c":"p40","t":2017,"v":56.5},{"c":"p40","t":2018,"v":56.0},{"c":"p40","t":2019,"v":56.5},{"c":"p40","t":2020,"v":57.0},
{"c":"p41","t":1995,"v":60.5},{"c":"p41","t":1996,"v":61.5},{"c":"p41","t":1997,"v":62.5},{"c":"p41","t":1998,"v":60.0},{"c":"p41","t":1999,"v":61.5},{"c":"p41","t":2000,"v":60.0},{"c":"p41","t":2001,"v":58.5},{"c":"p41","t":2002,"v":60.5},{"c":"p41","t":2003,"v":61.5},{"c":"p41","t":2004,"v":59.5},{"c":"p41","t":2005,"v":58.5},{"c":"p41","t":2006,"v":59.5},{"c":"p41","t":2007,"v":58.0},{"c":"p41","t":2008,"v":56.5},{"c":"p41","t":2009,"v":58.5},{"c":"p41","t":2010,"v":57.5},{"c":"p41","t":2011,"v":55.5},{"c":"p41","t":2012,"v":56.5},{"c":"p41","t":2013,"v":57.5},{"c":"p41","t":2014,"v":56.5},{"c":"p41","t":2015,"v":55.5},{"c":"p41","t":2016,"v":56.0},{"c":"p41","t":2017,"v":55.5},{"c":"p41","t":2018,"v":55.0},{"c":"p41","t":2019,"v":55.5},{"c":"p41","t":2020,"v":55.0},
{"c":"p42","t":1995,"v":58.6},{"c":"p42","t":1996,"v":60.0},{"c":"p42","t":1997,"v":58.0},{"c":"p42","t":1998,"v":61.0},{"c":"p42","t":1999,"v":59.5},{"c":"p42","t":2000,"v":57.5},{"c":"p42","t":2001,"v":59.0},{"c":"p42","t":2002,"v":57.5},{"c":"p42","t":2003,"v":58.5},{"c":"p42","t":2004,"v":57.0},{"c":"p42","t":2005,"v":56.0},{"c":"p42","t":2006,"v":57.0},{"c":"p42","t":2007,"v":55.5},{"c":"p42","t":2008,"v":54.5},{"c":"p42","t":2009,"v":57.0},{"c":"p42","t":2010,"v":55.5},{"c":"p42","t":2011,"v":54.0},{"c":"p42","t":2012,"v":55.0},{"c":"p42","t":2013,"v":54.5},{"c":"p42","t":2014,"v":55.5},{"c":"p42","t":2015,"v":54.5},{"c":"p42","t":2016,"v":55.0},{"c":"p42","t":2017,"v":54.0},{"c":"p42","t":2018,"v":54.5},{"c":"p42","t":2019,"v":53.5},{"c":"p42","t":2020,"v":54.0},
{"c":"p43","t":1995,"v":58.2},{"c":"p43","t":1996,"v":59.5},{"c":"p43","t":1997,"v":55.0},{"c":"p43","t":1998,"v":58.0},{"c":"p43","t":1999,"v":58.5},{"c":"p43","t":2000,"v":59.0},{"c":"p43","t":2001,"v":56.5},{"c":"p43","t":2002,"v":57.0},{"c":"p43","t":2003,"v":57.5},{"c":"p43","t":2004,"v":56.5},{"c":"p43","t":2005,"v":55.5},{"c":"p43","t":2006,"v":56.0},{"c":"p43","t":2007,"v":54.0},{"c":"p43","t":2008,"v":53.0},{"c":"p43","t":2009,"v":56.0},{"c":"p43","t":2010,"v":54.0},{"c":"p43","t":2011,"v":52.5},{"c":"p43","t":2012,"v":53.5},{"c":"p43","t":2013,"v":54.0},{"c":"p43","t":2014,"v":53.5},{"c":"p43","t":2015,"v":53.0},{"c":"p43","t":2016,"v":53.5},{"c":"p43","t":2017,"v":52.5},{"c":"p43","t":2018,"v":53.0},{"c":"p43","t":2019,"v":52.5},{"c":"p43","t":2020,"v":52.5},
{"c":"p44","t":1995,"v":56.8},{"c":"p44","t":1996,"v":57.5},{"c":"p44","t":1997,"v":58.5},{"c":"p44","t":1998,"v":56.5},{"c":"p44","t":1999,"v":55.5},{"c":"p44","t":2000,"v":56.0},{"c":"p44","t":2001,"v":54.5},{"c":"p44","t":2002,"v":55.0},{"c":"p44","t":2003,"v":56.5},{"c":"p44","t":2004,"v":55.5},{"c":"p44","t":2005,"v":54.5},{"c":"p44","t":2006,"v":54.0},{"c":"p44","t":2007,"v":53.0},{"c":"p44","t":2008,"v":52.5},{"c":"p44","t":2009,"v":54.0},{"c":"p44","t":2010,"v":53.0},{"c":"p44","t":2011,"v":51.5},{"c":"p44","t":2012,"v":51.0},{"c":"p44","t":2013,"v":51.5},{"c":"p44","t":2014,"v":51.0},{"c":"p44","t":2015,"v":51.5},{"c":"p44","t":2016,"v":51.0},{"c":"p44","t":2017,"v":50.8},{"c":"p44","t":2018,"v":51.0},{"c":"p44","t":2019,"v":51.5},{"c":"p44","t":2020,"v":50.5},
{"c":"p45","t":1995,"v":50.4},{"c":"p45","t":1996,"v":51.4},{"c":"p45","t":1997,"v":53.4},{"c":"p45","t":1998,"v":52.8},{"c":"p45","t":1999,"v":53.3},{"c":"p45","t":2000,"v":52.4},{"c":"p45","t":2001,"v":50.5},{"c":"p45","t":2002,"v":51.2},{"c":"p45","t":2003,"v":51.3},{"c":"p45","t":2004,"v":52.5},{"c":"p45","t":2005,"v":52.0},{"c":"p45","t":2006,"v":51.5},{"c":"p45","t":2007,"v":51.0},{"c":"p45","t":2008,"v":50.5},{"c":"p45","t":2009,"v":52.0},{"c":"p45","t":2010,"v":51.5},{"c":"p45","t":2011,"v":50.8},{"c":"p45","t":2012,"v":50.3},{"c":"p45","t":2013,"v":50.8},{"c":"p45","t":2014,"v":51.0},{"c":"p45","t":2015,"v":50.6},{"c":"p45","t":2016,"v":50.4},{"c":"p45","t":2017,"v":50.2},{"c":"p45","t":2018,"v":50.5},{"c":"p45","t":2019,"v":50.4},{"c":"p45","t":2020,"v":50.3},
{"c":"Luxemburgo","t":1995,"v":57.5},{"c":"Luxemburgo","t":1996,"v":57.0},{"c":"Luxemburgo","t":1997,"v":58.0},{"c":"Luxemburgo","t":1998,"v":56.5},{"c":"Luxemburgo","t":1999,"v":57.0},{"c":"Luxemburgo","t":2000,"v":55.5},{"c":"Luxemburgo","t":2001,"v":56.0},{"c":"Luxemburgo","t":2002,"v":55.0},{"c":"Luxemburgo","t":2003,"v":54.4},{"c":"Luxemburgo","t":2004,"v":53.1},{"c":"Luxemburgo","t":2005,"v":51.1},{"c":"Luxemburgo","t":2006,"v":46.5},{"c":"Luxemburgo","t":2007,"v":45.8},{"c":"Luxemburgo","t":2008,"v":39.5},{"c":"Luxemburgo","t":2009,"v":38.5},{"c":"Luxemburgo","t":2010,"v":37.5},{"c":"Luxemburgo","t":2011,"v":36.9},{"c":"Luxemburgo","t":2012,"v":37.5},{"c":"Luxemburgo","t":2013,"v":38.5},{"c":"Luxemburgo","t":2014,"v":37.5},{"c":"Luxemburgo","t":2015,"v":36.2},{"c":"Luxemburgo","t":2016,"v":36.5},{"c":"Luxemburgo","t":2017,"v":36.9},{"c":"Luxemburgo","t":2018,"v":35.9},{"c":"Luxemburgo","t":2019,"v":34.6},{"c":"Luxemburgo","t":2020,"v":34.9},
{"c":"Malta","t":1995,"v":56.4},{"c":"Malta","t":1996,"v":55.7},{"c":"Malta","t":1997,"v":53.7},{"c":"Malta","t":1998,"v":48.4},{"c":"Malta","t":1999,"v":48.1},{"c":"Malta","t":2000,"v":44.1},{"c":"Malta","t":2001,"v":44.5},{"c":"Malta","t":2002,"v":46.8},{"c":"Malta","t":2003,"v":46.8},{"c":"Malta","t":2004,"v":44.5},{"c":"Malta","t":2005,"v":42.5},{"c":"Malta","t":2006,"v":40.6},{"c":"Malta","t":2007,"v":40.3},{"c":"Malta","t":2008,"v":43.5},{"c":"Malta","t":2009,"v":45.8},{"c":"Malta","t":2010,"v":42.8},{"c":"Malta","t":2011,"v":41.2},{"c":"Malta","t":2012,"v":41.0},{"c":"Malta","t":2013,"v":39.2},{"c":"Malta","t":2014,"v":41.2},{"c":"Malta","t":2015,"v":40.2},{"c":"Malta","t":2016,"v":42.2},{"c":"Malta","t":2017,"v":43.5},{"c":"Malta","t":2018,"v":45.5},{"c":"Malta","t":2019,"v":45.5},{"c":"Malta","t":2020,"v":40.2}
],
"hl": [
{"c":"España","t":1995,"v":80.3},{"c":"España","t":1996,"v":80.3},{"c":"España","t":1997,"v":79.5},{"c":"España","t":1998,"v":79.2},{"c":"España","t":1999,"v":78.2},{"c":"España","t":2000,"v":74.9},{"c":"España","t":2001,"v":76.5},{"c":"España","t":2002,"v":77.2},{"c":"España","t":2003,"v":77.2},{"c":"España","t":2004,"v":75.5},{"c":"España","t":2005,"v":74.9},{"c":"España","t":2006,"v":73.6},{"c":"España","t":2007,"v":73.2},{"c":"España","t":2008,"v":73.6},{"c":"España","t":2009,"v":78.2},{"c":"España","t":2010,"v":74.5},{"c":"España","t":2011,"v":73.6},{"c":"España","t":2012,"v":74.2},{"c":"España","t":2013,"v":74.9},{"c":"España","t":2014,"v":74.9},{"c":"España","t":2015,"v":75.5},{"c":"España","t":2016,"v":75.9},{"c":"España","t":2017,"v":75.5},{"c":"España","t":2018,"v":74.9},{"c":"España","t":2019,"v":75.0},{"c":"España","t":2020,"v":75.2},
{"c":"Alemania","t":1995,"v":85.8},{"c":"Alemania","t":1996,"v":85.2},{"c":"Alemania","t":1997,"v":84.8},{"c":"Alemania","t":1998,"v":84.4},{"c":"Alemania","t":1999,"v":84.3},{"c":"Alemania","t":2000,"v":82.0},{"c":"Alemania","t":2001,"v":82.0},{"c":"Alemania","t":2002,"v":82.5},{"c":"Alemania","t":2003,"v":82.3},{"c":"Alemania","t":2004,"v":81.2},{"c":"Alemania","t":2005,"v":79.9},{"c":"Alemania","t":2006,"v":78.2},{"c":"Alemania","t":2007,"v":77.9},{"c":"Alemania","t":2008,"v":77.6},{"c":"Alemania","t":2009,"v":80.5},{"c":"Alemania","t":2010,"v":75.8},{"c":"Alemania","t":2011,"v":74.9},{"c":"Alemania","t":2012,"v":75.9},{"c":"Alemania","t":2013,"v":76.5},{"c":"Alemania","t":2014,"v":77.0},{"c":"Alemania","t":2015,"v":77.5},{"c":"Alemania","t":2016,"v":78.2},{"c":"Alemania","t":2017,"v":77.5},{"c":"Alemania","t":2018,"v":76.9},{"c":"Alemania","t":2019,"v":77.0},{"c":"Alemania","t":2020,"v":77.2},
{"c":"Reino Unido","t":1995,"v":84.6},{"c":"Reino Unido","t":1996,"v":84.8},{"c":"Reino Unido","t":1997,"v":84.6},{"c":"Reino Unido","t":1998,"v":85.1},{"c":"Reino Unido","t":1999,"v":84.9},{"c":"Reino Unido","t":2000,"v":84.5},{"c":"Reino Unido","t":2001,"v":84.6},{"c":"Reino Unido","t":2002,"v":85.0},{"c":"Reino Unido","t":2003,"v":85.1},{"c":"Reino Unido","t":2004,"v":85.0},{"c":"Reino Unido","t":2005,"v":84.1},{"c":"Reino Unido","t":2006,"v":83.8},{"c":"Reino Unido","t":2007,"v":83.5},{"c":"Reino Unido","t":2008,"v":82.5},{"c":"Reino Unido","t":2009,"v":83.8},{"c":"Reino Unido","t":2010,"v":81.5},{"c":"Reino Unido","t":2011,"v":80.5},{"c":"Reino Unido","t":2012,"v":81.0},{"c":"Reino Unido","t":2013,"v":82.5},{"c":"Reino Unido","t":2014,"v":83.6},{"c":"Reino Unido","t":2015,"v":84.1},{"c":"Reino Unido","t":2016,"v":84.0},{"c":"Reino Unido","t":2017,"v":83.1},{"c":"Reino Unido","t":2018,"v":82.8},{"c":"Reino Unido","t":2019,"v":82.8},{"c":"Reino Unido","t":2020,"v":83.2},
{"c":"Japón","t":1995,"v":89.8},{"c":"Japón","t":1996,"v":89.4},{"c":"Japón","t":1997,"v":88.4},{"c":"Japón","t":1998,"v":88.6},{"c":"Japón","t":1999,"v":87.9},{"c":"Japón","t":2000,"v":86.1},{"c":"Japón","t":2001,"v":86.2},{"c":"Japón","t":2002,"v":87.1},{"c":"Japón","t":2003,"v":87.2},{"c":"Japón","t":2004,"v":86.5},{"c":"Japón","t":2005,"v":84.9},{"c":"Japón","t":2006,"v":83.5},{"c":"Japón","t":2007,"v":83.2},{"c":"Japón","t":2008,"v":82.5},{"c":"Japón","t":2009,"v":84.7},{"c":"Japón","t":2010,"v":82.3},{"c":"Japón","t":2011,"v":80.8},{"c":"Japón","t":2012,"v":80.8},{"c":"Japón","t":2013,"v":81.5},{"c":"Japón","t":2014,"v":82.0},{"c":"Japón","t":2015,"v":82.2},{"c":"Japón","t":2016,"v":82.5},{"c":"Japón","t":2017,"v":81.8},{"c":"Japón","t":2018,"v":81.5},{"c":"Japón","t":2019,"v":81.2},{"c":"Japón","t":2020,"v":81.8},
{"c":"Francia","t":1995,"v":83.3},{"c":"Francia","t":1996,"v":83.1},{"c":"Francia","t":1997,"v":82.5},{"c":"Francia","t":1998,"v":82.1},{"c":"Francia","t":1999,"v":81.6},{"c":"Francia","t":2000,"v":78.8},{"c":"Francia","t":2001,"v":78.7},{"c":"Francia","t":2002,"v":79.6},{"c":"Francia","t":2003,"v":80.3},{"c":"Francia","t":2004,"v":79.4},{"c":"Francia","t":2005,"v":78.6},{"c":"Francia","t":2006,"v":77.2},{"c":"Francia","t":2007,"v":76.9},{"c":"Francia","t":2008,"v":76.9},{"c":"Francia","t":2009,"v":79.8},{"c":"Francia","t":2010,"v":76.9},{"c":"Francia","t":2011,"v":75.5},{"c":"Francia","t":2012,"v":75.5},{"c":"Francia","t":2013,"v":75.8},{"c":"Francia","t":2014,"v":76.1},{"c":"Francia","t":2015,"v":76.4},{"c":"Francia","t":2016,"v":76.7},{"c":"Francia","t":2017,"v":75.8},{"c":"Francia","t":2018,"v":75.8},{"c":"Francia","t":2019,"v":76.4},{"c":"Francia","t":2020,"v":77.0},
{"c":"Italia","t":1995,"v":83.8},{"c":"Italia","t":1996,"v":84.9},{"c":"Italia","t":1997,"v":84.3},{"c":"Italia","t":1998,"v":84.0},{"c":"Italia","t":1999,"v":83.5},{"c":"Italia","t":2000,"v":80.8},{"c":"Italia","t":2001,"v":80.9},{"c":"Italia","t":2002,"v":81.3},{"c":"Italia","t":2003,"v":81.6},{"c":"Italia","t":2004,"v":80.5},{"c":"Italia","t":2005,"v":79.5},{"c":"Italia","t":2006,"v":77.5},{"c":"Italia","t":2007,"v":75.9},{"c":"Italia","t":2008,"v":75.7},{"c":"Italia","t":2009,"v":79.5},{"c":"Italia","t":2010,"v":74.9},{"c":"Italia","t":2011,"v":73.6},{"c":"Italia","t":2012,"v":74.6},{"c":"Italia","t":2013,"v":75.5},{"c":"Italia","t":2014,"v":76.1},{"c":"Italia","t":2015,"v":76.7},{"c":"Italia","t":2016,"v":77.9},{"c":"Italia","t":2017,"v":76.7},{"c":"Italia","t":2018,"v":76.7},{"c":"Italia","t":2019,"v":77.4},{"c":"Italia","t":2020,"v":78.2},
{"c":"China","t":1995,"v":84.6},{"c":"China","t":1996,"v":84.5},{"c":"China","t":1997,"v":84.8},{"c":"China","t":1998,"v":86.1},{"c":"China","t":1999,"v":84.8},{"c":"China","t":2000,"v":82.5},{"c":"China","t":2001,"v":82.7},{"c":"China","t":2002,"v":81.2},{"c":"China","t":2003,"v":78.8},{"c":"China","t":2004,"v":75.9},{"c":"China","t":2005,"v":75.7},{"c":"China","t":2006,"v":76.1},{"c":"China","t":2007,"v":77.5},{"c":"China","t":2008,"v":77.5},{"c":"China","t":2009,"v":81.8},{"c":"China","t":2010,"v":79.8},{"c":"China","t":2011,"v":79.2},{"c":"China","t":2012,"v":80.2},{"c":"China","t":2013,"v":80.8},{"c":"China","t":2014,"v":82.2},{"c":"China","t":2015,"v":83.5},{"c":"China","t":2016,"v":83.8},{"c":"China","t":2017,"v":82.8},{"c":"China","t":2018,"v":82.8},{"c":"China","t":2019,"v":83.3},{"c":"China","t":2020,"v":83.8},
{"c":"Portugal","t":1995,"v":75.2},{"c":"Portugal","t":1996,"v":74.6},{"c":"Portugal","t":1997,"v":73.9},{"c":"Portugal","t":1998,"v":74.2},{"c":"Portugal","t":1999,"v":74.2},{"c":"Portugal","t":2000,"v":72.9},{"c":"Portugal","t":2001,"v":73.5},{"c":"Portugal","t":2002,"v":73.8},{"c":"Portugal","t":2003,"v":73.8},{"c":"Portugal","t":2004,"v":73.2},{"c":"Portugal","t":2005,"v":72.4},{"c":"Portugal","t":2006,"v":70.9},{"c":"Portugal","t":2007,"v":71.6},{"c":"Portugal","t":2008,"v":70.9},{"c":"Portugal","t":2009,"v":73.6},{"c":"Portugal","t":2010,"v":71.2},{"c":"Portugal","t":2011,"v":69.3},{"c":"Portugal","t":2012,"v":69.0},{"c":"Portugal","t":2013,"v":68.8},{"c":"Portugal","t":2014,"v":69.3},{"c":"Portugal","t":2015,"v":69.9},{"c":"Portugal","t":2016,"v":70.9},{"c":"Portugal","t":2017,"v":69.9},{"c":"Portugal","t":2018,"v":69.0},{"c":"Portugal","t":2019,"v":69.0},{"c":"Portugal","t":2020,"v":68.8},
{"c":"EEUU","t":1995,"v":91.1},{"c":"EEUU","t":1996,"v":91.2},{"c":"EEUU","t":1997,"v":90.6},{"c":"EEUU","t":1998,"v":90.5},{"c":"EEUU","t":1999,"v":90.0},{"c":"EEUU","t":2000,"v":89.4},{"c":"EEUU","t":2001,"v":90.5},{"c":"EEUU","t":2002,"v":90.5},{"c":"EEUU","t":2003,"v":90.5},{"c":"EEUU","t":2004,"v":89.6},{"c":"EEUU","t":2005,"v":88.6},{"c":"EEUU","t":2006,"v":88.1},{"c":"EEUU","t":2007,"v":87.6},{"c":"EEUU","t":2008,"v":86.5},{"c":"EEUU","t":2009,"v":90.1},{"c":"EEUU","t":2010,"v":88.7},{"c":"EEUU","t":2011,"v":87.1},{"c":"EEUU","t":2012,"v":87.6},{"c":"EEUU","t":2013,"v":88.0},{"c":"EEUU","t":2014,"v":88.2},{"c":"EEUU","t":2015,"v":89.7},{"c":"EEUU","t":2016,"v":90.9},{"c":"EEUU","t":2017,"v":90.8},{"c":"EEUU","t":2018,"v":90.5},{"c":"EEUU","t":2019,"v":91.1},{"c":"EEUU","t":2020,"v":91.7}
]
},
"encoding": {
  "x": {"field": "t", "type": "quantitative",
    "scale": {"domain": [1994.5, 2020.5], "nice": false, "zero": false},
    "axis": {"title": null, "grid": false,
      "values": [1994.5,1995.5,1996.5,1997.5,1998.5,1999.5,2000.5,2001.5,2002.5,2003.5,2004.5,2005.5,2006.5,2007.5,2008.5,2009.5,2010.5,2011.5,2012.5,2013.5,2014.5,2015.5,2016.5,2017.5,2018.5,2019.5,2020.5],
      "labelExpr": "(datum.value + 0.5) % 2 == 1 && datum.value < 2020 ? format(datum.value + 0.5, 'd') : ''",
      "labelAngle": -90, "labelOffset": 13.67, "labelFontSize": 25, "labelFont": "Liberation Sans",
      "labelColor": "#1E2B48", "labelPadding": 10, "labelOverlap": false, "labelFlush": false,
      "tickColor": "#D9D9D9", "tickSize": 9, "tickWidth": 1, "domainColor": "#D9D9D9", "domainWidth": 1}},
  "y": {"field": "v", "type": "quantitative",
    "scale": {"domain": [30, 100], "nice": false, "zero": false},
    "axis": {"title": null, "values": [30,40,50,60,70,80,90,100], "labelFontSize": 25, "labelFont": "Liberation Sans",
      "labelColor": "#808080", "labelPadding": 31, "ticks": false, "tickSize": 0, "domain": false,
      "grid": true, "gridColor": "#D9D9D9", "gridWidth": 1}}
},
"layer": [
  {"data": {"name": "gray"},
   "mark": {"type": "line", "color": "#BFBFBF", "strokeWidth": 7.5, "strokeCap": "round", "strokeJoin": "round"},
   "encoding": {"detail": {"field": "c", "type": "nominal"}}},
  {"data": {"name": "hl"},
   "mark": {"type": "line", "strokeWidth": 7.5, "strokeCap": "round", "strokeJoin": "round"},
   "encoding": {"color": {"field": "c", "type": "nominal", "sort": null,
      "scale": {"domain": ["España","Alemania","Reino Unido","Japón","Francia","Italia","China","Portugal","EEUU"],
                "range": ["#002060","#F58B3B","#9980E6","#2ECBCB","#D6BE78","#70AD47","#7030A0","#F08CE0","#FFC000"]},
      "legend": {"title": null, "orient": "none", "legendX": -140, "legendY": 452, "direction": "horizontal",
        "values": ["Portugal","Reino Unido","EEUU","China"],
        "symbolType": "stroke", "symbolSize": 3249, "symbolStrokeWidth": 7,
        "labelFontSize": 26, "labelFont": "Liberation Sans", "labelColor": "#1E2B48", "labelOffset": 1,
        "columnPadding": 5, "padding": 0, "labelLimit": 0}}}},
  {"data": {"values": [{"c": "Nigeria", "t": 2016, "v": 98.7}]},
   "mark": {"type": "text", "align": "left", "baseline": "alphabetic", "dx": -5, "fontSize": 20, "font": "Liberation Sans", "color": "#595959"},
   "encoding": {"text": {"field": "c"}}},
  {"data": {"values": [{"c": "A. Saudí", "t": 2018, "v": 97.4}]},
   "mark": {"type": "text", "align": "left", "baseline": "alphabetic", "dx": 0, "fontSize": 24, "font": "Liberation Sans", "color": "#595959"},
   "encoding": {"text": {"field": "c"}}},
  {"data": {"values": [{"c": "Malta", "t": 2020, "v": 38.9}]},
   "mark": {"type": "text", "align": "right", "baseline": "alphabetic", "dx": -9, "fontSize": 23, "font": "Liberation Sans", "color": "#595959"},
   "encoding": {"text": {"field": "c"}}},
  {"data": {"values": [{"c": "Luxemburgo", "t": 2020, "v": 29.8}]},
   "mark": {"type": "text", "align": "right", "baseline": "alphabetic", "dx": 2, "fontSize": 24, "font": "Liberation Sans", "color": "#595959"},
   "encoding": {"text": {"field": "c"}}}
]
}
